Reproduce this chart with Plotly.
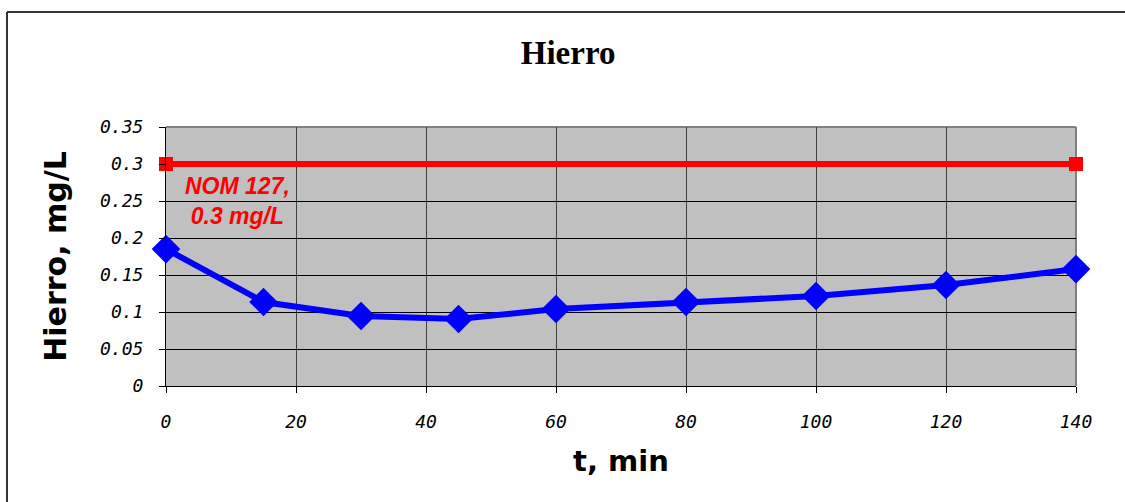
import plotly.graph_objects as go

# Iron concentration over time
t_min = [0, 15, 30, 45, 60, 80, 100, 120, 140]
hierro = [0.185, 0.1135, 0.0946, 0.0905, 0.104, 0.1135, 0.1216, 0.1365, 0.158]

# NOM 127 limit
nom_t = [0, 140]
nom_val = [0.3, 0.3]

x_ticks = [0, 20, 40, 60, 80, 100, 120, 140]
y_ticks = [0, 0.05, 0.1, 0.15, 0.2, 0.25, 0.3, 0.35]
y_tick_text = ["0", "0.05", "0.1", "0.15", "0.2", "0.25", "0.3", "0.35"]

W, H = 1125, 502
ML, MR, MT, MB = 166, 49, 127, 116
PW, PH = W - ML - MR, H - MT - MB

fig = go.Figure()

fig.add_trace(go.Scatter(
    x=nom_t, y=nom_val, mode="lines+markers",
    line=dict(color="#FF0000", width=6),
    marker=dict(symbol="square", size=14, color="#FF0000"),
    cliponaxis=False, showlegend=False,
))

fig.add_trace(go.Scatter(
    x=t_min, y=hierro, mode="lines+markers",
    line=dict(color="#0000FF", width=6),
    marker=dict(symbol="diamond", size=22, color="#0000FF"),
    cliponaxis=False, showlegend=False,
))

fig.add_annotation(
    x=11, y=0.25, xref="x", yref="y",
    text="NOM 127,<br>0.3 mg/L", showarrow=False,
    font=dict(family="Liberation Sans, Arial", size=23, color="#FF0000",
              weight="bold", style="italic"),
    align="center",
)

tick_font = dict(family="DejaVu Sans Mono", size=18, color="#000000", style="italic")

fig.update_xaxes(
    range=[0, 140], tickvals=x_ticks, ticktext=[str(v) for v in x_ticks],
    showgrid=True, gridcolor="#404040", gridwidth=1,
    showline=True, linecolor="#000000", linewidth=1,
    ticks="outside", ticklen=6, tickcolor="#000000",
    tickfont=tick_font, ticklabelstandoff=13,
    zeroline=False,
    title=dict(text="t, min", standoff=20,
               font=dict(family="DejaVu Sans", size=29, color="#000000", weight="bold")),
)

fig.update_yaxes(
    range=[0, 0.35], tickvals=y_ticks, ticktext=y_tick_text,
    showgrid=True, gridcolor="#000000", gridwidth=1,
    showline=True, linecolor="#000000", linewidth=1,
    ticks="outside", ticklen=6, tickcolor="#000000",
    tickfont=tick_font, ticklabelstandoff=12,
    zeroline=False,
    title=dict(text="Hierro, mg/L", standoff=24,
               font=dict(family="DejaVu Sans", size=30, color="#000000", weight="bold")),
)

# Chart frame (left and top edges) plus top/right plot border
frame_left = (7 - ML) / PW
frame_top = 1 + (MT - 12) / PH
fig.add_shape(type="line", xref="paper", yref="paper",
              x0=frame_left, x1=frame_left, y0=-MB / PH, y1=frame_top,
              line=dict(color="#333333", width=2))
fig.add_shape(type="line", xref="paper", yref="paper",
              x0=frame_left, x1=(W - ML) / PW, y0=frame_top, y1=frame_top,
              line=dict(color="#333333", width=2))
fig.add_shape(type="line", xref="paper", yref="paper",
              x0=0, x1=1, y0=1, y1=1, line=dict(color="#808080", width=2), layer="below")
fig.add_shape(type="line", xref="paper", yref="paper",
              x0=1, x1=1, y0=0, y1=1, line=dict(color="#808080", width=2), layer="below")

fig.update_layout(
    width=W, height=H,
    margin=dict(l=ML, r=MR, t=MT, b=MB),
    paper_bgcolor="#FFFFFF", plot_bgcolor="#C0C0C0",
    title=dict(text="Hierro", x=0.505, xanchor="center", y=1 - 52 / H, yanchor="middle",
               font=dict(family="Liberation Serif, Times New Roman", size=33,
                         color="#000000", weight="bold")),
)

fig.write_html("out.html")
